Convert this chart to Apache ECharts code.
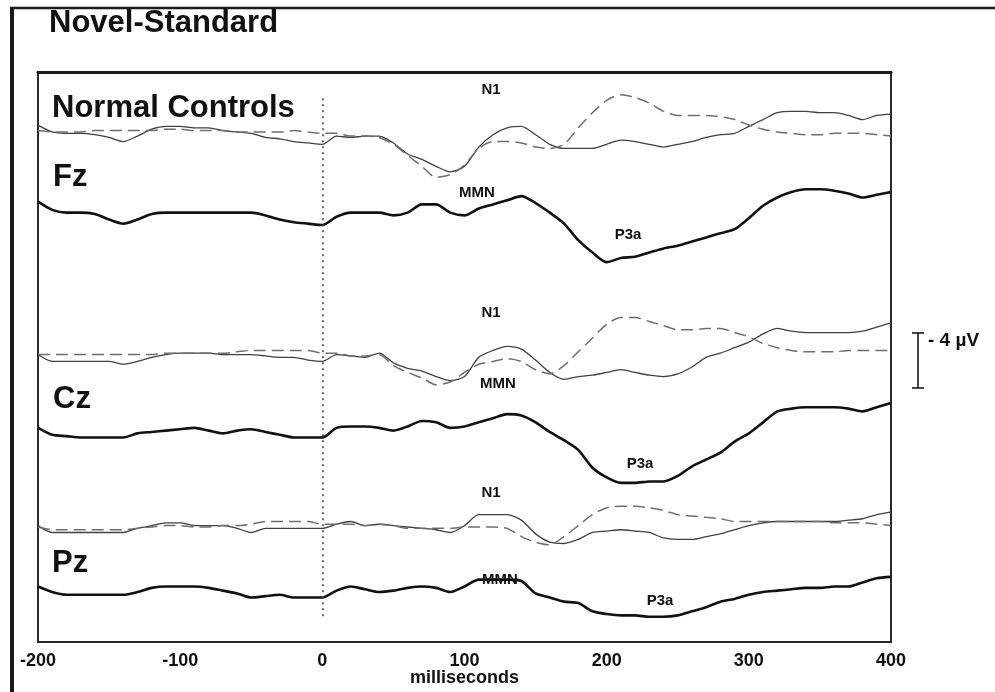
<!DOCTYPE html>
<html>
<head>
<meta charset="utf-8">
<script src="https://cdn.jsdelivr.net/npm/echarts@6/dist/echarts.min.js"></script>
<style>
  html, body { margin: 0; padding: 0; background: #fff; }
  #main { width: 995px; height: 692px; }
</style>
</head>
<body>
<div id="main"></div>
<script>
// time points (ms)
var times = [-200, -190, -180, -170, -160, -150, -140, -130, -120, -110, -100, -90, -80, -70, -60, -50, -40, -30, -20, -10, 0,
  10, 20, 30, 40, 50, 60, 70, 80, 90, 100, 110, 120, 130, 140, 150, 160, 170, 180, 190, 200,
  210, 220, 230, 240, 250, 260, 270, 280, 290, 300, 310, 320, 330, 340, 350, 360, 370, 380, 390, 400];
var xTicks = [-200, -100, 0, 100, 200, 300, 400];

// µV, negative plotted upward
var fzNovel = [-0.5, 0, 0.1, 0.1, 0.2, 0.4, 0.7, 0.3, -0.2, -0.4, -0.4, -0.3, -0.3, -0.1, 0, 0.1, 0.4, 0.5, 0.7, 0.8, 0.9,
  0.3, 0.4, 0.3, 0.3, 0.8, 1.6, 2.0, 2.5, 2.9, 2.5, 1.1, 0.2, -0.3, -0.4, 0.2, 0.9, 1.2, 1.2, 1.2, 0.9,
  0.6, 0.7, 0.9, 1.1, 0.9, 0.7, 0.4, 0.2, 0.1, -0.4, -0.9, -1.4, -1.5, -1.5, -1.4, -1.4, -1.2, -0.9, -1.2, -1.3];
var fzStandard = [-0.1, 0, 0, 0, -0.1, -0.1, -0.1, -0.1, -0.1, -0.2, -0.2, -0.1, -0.1, -0.1, 0, 0, 0, 0, -0.1, 0, 0.1,
  0.1, 0.3, 0.3, 0.4, 0.9, 1.7, 2.5, 3.3, 3.1, 2.4, 1.2, 0.7, 0.7, 0.8, 1.1, 1.2, 0.9, -0.3, -1.4, -2.3,
  -2.7, -2.5, -2.1, -1.5, -1.2, -1.2, -1.2, -1.1, -0.9, -0.5, -0.2, 0, 0.1, 0.2, 0.2, 0.1, 0.1, 0.1, 0.2, 0.3];
var fzDiff = [-0.9, -0.3, -0.1, -0.1, 0, 0.4, 0.7, 0.4, 0, -0.1, -0.1, -0.1, -0.1, -0.1, -0.1, -0.1, 0.1, 0.4, 0.6, 0.7, 0.8,
  0.2, -0.1, -0.1, -0.1, 0.1, -0.1, -0.7, -0.7, -0.1, 0.1, -0.4, -0.7, -1.0, -1.3, -0.8, -0.1, 0.7, 1.9, 2.8, 3.5,
  3.2, 3.1, 2.8, 2.5, 2.3, 2.0, 1.7, 1.4, 1.1, 0.3, -0.6, -1.2, -1.6, -1.8, -1.8, -1.7, -1.5, -1.2, -1.4, -1.6];

var czNovel = [-0.1, 0.4, 0.4, 0.4, 0.4, 0.4, 0.6, 0.4, 0.1, -0.1, -0.2, -0.2, -0.2, -0.1, -0.1, -0.1, 0, 0.1, 0.1, 0.3, 0.4,
  -0.1, 0, 0.1, -0.2, 0.5, 0.9, 1.1, 1.5, 1.8, 1.5, 0.1, -0.4, -0.7, -0.5, 0.3, 1.2, 1.7, 1.5, 1.4, 1.2,
  1.0, 1.2, 1.4, 1.5, 1.3, 0.8, 0.1, -0.2, -0.6, -1.0, -1.6, -2.0, -1.8, -1.7, -1.7, -1.7, -1.7, -1.8, -2.1, -2.4];
var czStandard = [-0.1, -0.1, -0.1, -0.1, -0.1, -0.1, -0.1, -0.1, -0.1, -0.2, -0.2, -0.2, -0.2, -0.2, -0.3, -0.4, -0.4, -0.4, -0.4, -0.4, -0.2,
  -0.2, 0, 0, -0.1, 0.7, 1.2, 1.6, 2.1, 1.9, 1.2, 0.6, 0.4, 0.2, 0.4, 1.0, 1.3, 0.7, -0.3, -1.3, -2.3,
  -2.8, -2.8, -2.5, -2.2, -1.9, -1.9, -2.0, -2.0, -1.7, -1.4, -0.9, -0.6, -0.4, -0.3, -0.3, -0.3, -0.4, -0.4, -0.4, -0.4];
var czDiff = [-0.3, 0.2, 0.3, 0.4, 0.4, 0.4, 0.4, 0.1, 0, -0.1, -0.2, -0.3, -0.1, 0.1, -0.1, -0.2, 0, 0.2, 0.4, 0.4, 0.4,
  -0.3, -0.4, -0.4, -0.3, -0.1, -0.4, -0.8, -0.7, -0.3, -0.4, -0.7, -1.0, -1.3, -1.2, -0.7, 0, 0.6, 1.3, 2.6, 3.3,
  3.7, 3.7, 3.6, 3.6, 3.2, 2.5, 2.0, 1.5, 0.7, 0.1, -0.7, -1.5, -1.7, -1.8, -1.8, -1.8, -1.7, -1.5, -1.8, -2.1];

var pzNovel = [-0.1, 0.4, 0.4, 0.4, 0.4, 0.4, 0.4, 0.1, -0.1, -0.3, -0.3, -0.1, -0.1, -0.1, 0.1, 0.4, 0.1, 0.1, 0.1, 0.1, 0.1,
  -0.2, -0.4, -0.1, -0.2, -0.1, 0, 0.1, 0.2, 0.4, -0.1, -0.9, -0.9, -0.9, -0.5, 0.5, 1.1, 1.2, 0.9, 0.4, 0.3,
  0.2, 0.3, 0.4, 0.8, 0.9, 0.9, 0.7, 0.5, 0.2, -0.1, -0.3, -0.4, -0.4, -0.4, -0.4, -0.4, -0.5, -0.6, -0.9, -1.1];
var pzStandard = [0, 0.2, 0.2, 0.2, 0.2, 0.2, 0.2, 0.1, 0, -0.1, -0.1, 0, 0, -0.1, -0.1, -0.2, -0.4, -0.4, -0.4, -0.4, -0.2,
  -0.2, -0.2, -0.1, -0.2, -0.1, 0.1, 0.1, 0.1, 0.1, 0, 0, 0, 0.1, 0.7, 1.1, 1.3, 0.7, -0.1, -0.9, -1.4,
  -1.5, -1.5, -1.4, -1.2, -0.9, -0.8, -0.7, -0.6, -0.4, -0.4, -0.4, -0.4, -0.4, -0.4, -0.4, -0.3, -0.3, -0.3, -0.2, -0.1];
var pzDiff = [-0.4, 0, 0.2, 0.2, 0.2, 0.2, 0.2, 0, -0.3, -0.4, -0.4, -0.4, -0.3, -0.1, 0.1, 0.4, 0.3, 0.2, 0.4, 0.4, 0.4,
  -0.1, -0.4, -0.2, 0, -0.1, -0.3, -0.4, -0.3, 0, -0.4, -0.9, -0.9, -0.9, -0.8, 0.1, 0.4, 0.7, 0.8, 1.4, 1.6,
  1.7, 1.7, 1.8, 1.8, 1.7, 1.4, 1.1, 0.7, 0.5, 0.2, 0, -0.1, -0.2, -0.3, -0.3, -0.4, -0.4, -0.7, -1.0, -1.1];

// vertical placement of each trace (µV from top of the plot box)
var PX_PER_UV = 13.75;
var Y_MAX = 570 / PX_PER_UV;
var base = { fzEp: 4.36, fzDiff: 10.33, czEp: 20.65, czDiff: 26.18, pzEp: 33.09, pzDiff: 37.82 };

function pairs(vals, offset) {
  return times.map(function (t, i) { return [t, offset + vals[i]]; });
}

var thin = { color: '#404040', width: 1.3 };
var dash = { color: '#6e6e6e', width: 1.5, type: [12, 6] };
var thick = { color: '#111', width: 2.6 };

function trace(name, vals, offset, style) {
  return {
    name: name, type: 'line', data: pairs(vals, offset), showSymbol: false,
    smooth: 0.25, lineStyle: style, silent: true, z: style === thick ? 4 : 3
  };
}

var chart = echarts.init(document.getElementById('main'));
var series = [
  trace('Fz novel', fzNovel, base.fzEp, thin),
  trace('Fz standard', fzStandard, base.fzEp, dash),
  trace('Fz difference', fzDiff, base.fzDiff, thick),
  trace('Cz novel', czNovel, base.czEp, thin),
  trace('Cz standard', czStandard, base.czEp, dash),
  trace('Cz difference', czDiff, base.czDiff, thick),
  trace('Pz novel', pzNovel, base.pzEp, thin),
  trace('Pz standard', pzStandard, base.pzEp, dash),
  trace('Pz difference', pzDiff, base.pzDiff, thick)
];
series[0].markLine = {
  silent: true, symbol: 'none', label: { show: false },
  lineStyle: { color: '#444', width: 1.6, type: [2, 4] },
  data: [[{ coord: [0, 1.9] }, { coord: [0, 39.85] }]]
};

var FONT = '"Liberation Sans", Arial, sans-serif';
var big = 'bold 31px ' + FONT;
var small = 'bold 15px ' + FONT;
function txt(s, x, y, font, align) {
  return { type: 'text', x: x, y: y, silent: true, z: 10,
    style: { text: s, font: font, fill: '#111', align: align || 'left', verticalAlign: 'middle' } };
}
function seg(x1, y1, x2, y2, w) {
  return { type: 'line', silent: true, z: 10, shape: { x1: x1, y1: y1, x2: x2, y2: y2 },
    style: { stroke: '#1a1a1a', lineWidth: w } };
}

chart.setOption({
  animation: false,
  backgroundColor: '#fff',
  grid: {
    left: 38, top: 72, right: 104, bottom: 50, containLabel: false, outerBoundsMode: 'none',
    show: true, borderColor: '#2a2a2a', borderWidth: 2
  },
  xAxis: {
    type: 'value', min: -200, max: 400, interval: 100,
    name: 'milliseconds', nameLocation: 'middle', nameGap: 27, nameMoveOverlap: false,
    nameTextStyle: { fontFamily: 'Liberation Sans, Arial', fontWeight: 'bold', fontSize: 18, color: '#111' },
    axisLine: { show: true, lineStyle: { color: '#1a1a1a', width: 3 } },
    axisTick: { show: false },
    splitLine: { show: false },
    axisLabel: {
      margin: 10, color: '#111', fontWeight: 'bold', fontSize: 18, fontFamily: 'Liberation Sans, Arial',
      formatter: function (v) { return xTicks.indexOf(v) >= 0 ? String(v) : ''; }
    }
  },
  yAxis: { type: 'value', min: 0, max: Y_MAX, inverse: true, show: false },
  series: series
});

// 4 µV calibration bar, sized through the y scale
var barTop = chart.convertToPixel({ yAxisIndex: 0 }, 18.98);
var barBot = chart.convertToPixel({ yAxisIndex: 0 }, 18.98 + 4);

chart.setOption({
  graphic: [
    seg(12, 8, 12, 692, 4),
    seg(10, 8, 995, 8, 2.5),
    seg(918, barTop, 918, barBot, 1.6),
    seg(912, barTop, 924, barTop, 1.6),
    seg(912, barBot, 924, barBot, 1.6),
    txt('- 4 \u00b5V', 928, barTop + 8, 'bold 19px ' + FONT),
    txt('Novel-Standard', 49, 23, big),
    txt('Normal Controls', 52, 108, big),
    txt('Fz', 53, 177, big),
    txt('Cz', 53, 399, big),
    txt('Pz', 52, 563, big),
    txt('N1', 491, 90, small, 'center'),
    txt('MMN', 477, 193, small, 'center'),
    txt('P3a', 628, 235, small, 'center'),
    txt('N1', 491, 313, small, 'center'),
    txt('MMN', 498, 384, small, 'center'),
    txt('P3a', 640, 464, small, 'center'),
    txt('N1', 491, 493, small, 'center'),
    txt('MMN', 500, 580, small, 'center'),
    txt('P3a', 660, 601, small, 'center')
  ]
});
</script>
</body>
</html>
